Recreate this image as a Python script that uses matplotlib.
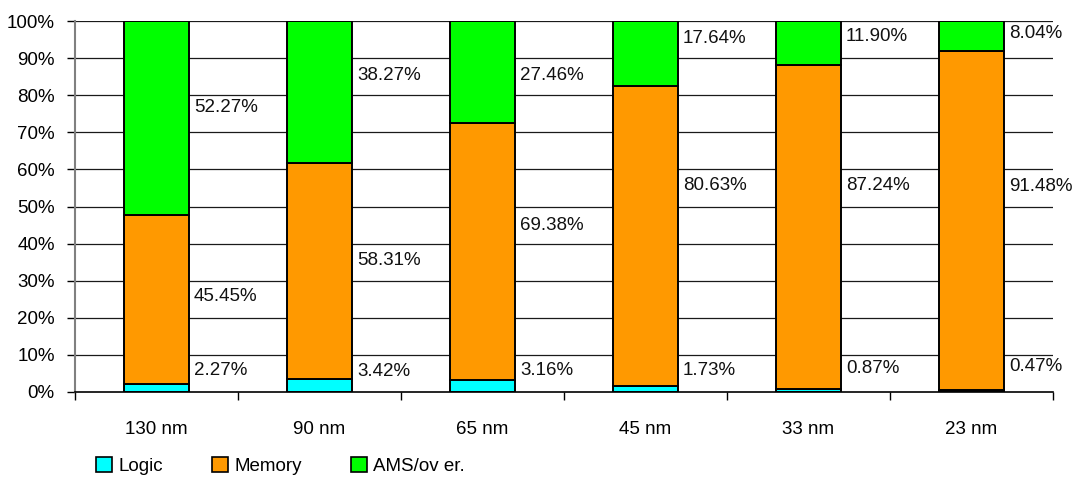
import matplotlib
matplotlib.use("Agg")
import matplotlib.pyplot as plt
from matplotlib.patches import Patch
import numpy as np

categories = ["130 nm", "90 nm", "65 nm", "45 nm", "33 nm", "23 nm"]
logic = [2.27, 3.42, 3.16, 1.73, 0.87, 0.47]
memory = [45.45, 58.31, 69.38, 80.63, 87.24, 91.48]
ams = [52.27, 38.27, 27.46, 17.64, 11.90, 8.04]
series_names = ["Logic", "Memory", "AMS/ov er."]
yticks = [0, 10, 20, 30, 40, 50, 60, 70, 80, 90, 100]
ytick_labels = ["0%", "10%", "20%", "30%", "40%", "50%", "60%", "70%", "80%", "90%", "100%"]

# vertical placement of the value labels (data units), as in the source chart
label_y_logic = [5.9, 5.5, 5.9, 5.9, 6.2, 6.8]
label_y_memory = [25.8, 35.4, 44.8, 55.6, 55.6, 55.3]
label_y_ams = [76.7, 85.3, 85.3, 95.2, 95.8, 96.5]

colors = ["#00FFFF", "#FF9900", "#00FF00"]
plt.rcParams["font.family"] = ["Liberation Sans", "DejaVu Sans"]

fig = plt.figure(figsize=(10.83, 4.83), dpi=100)
ax = fig.add_axes([75 / 1083, (483 - 392) / 483, 978 / 1083, 371 / 483])

x = np.arange(len(categories))
w = 0.40
logic_a = np.array(logic)
mem_a = np.array(memory)
ams_a = np.array(ams)

for v in yticks[1:]:
    ax.axhline(v, color="#1a1a1a", lw=0.9, zorder=1)

ax.bar(x, logic_a, w, color=colors[0], edgecolor="black", lw=1.4, zorder=3)
ax.bar(x, mem_a, w, bottom=logic_a, color=colors[1], edgecolor="black", lw=1.4, zorder=3)
ax.bar(x, ams_a, w, bottom=logic_a + mem_a, color=colors[2], edgecolor="black", lw=1.4, zorder=3)

fs = 13.5
for i in range(len(categories)):
    xr = x[i] + w / 2
    for val, yy in ((logic[i], label_y_logic[i]), (memory[i], label_y_memory[i]), (ams[i], label_y_ams[i])):
        ax.annotate(f"{val:.2f}%", (xr, yy), xytext=(3.5, 0), textcoords="offset points",
                    ha="left", va="center", fontsize=fs, color="#111111", zorder=4)

ax.set_xlim(-0.5, len(categories) - 0.5)
ax.set_ylim(0, 100)
ax.set_yticks(yticks)
ax.set_yticklabels(ytick_labels, fontsize=fs)
ax.tick_params(axis="y", direction="out", length=6, width=1, color="black", pad=8.5)

ax.set_xticks(np.arange(-0.5, len(categories), 1.0))
ax.set_xticklabels([])
ax.set_xticks(x, minor=True)
ax.set_xticklabels(categories, minor=True, fontsize=fs)
ax.tick_params(axis="x", which="major", direction="out", length=6, width=1, color="black")
ax.tick_params(axis="x", which="minor", length=0, pad=21)

for s in ("top", "right"):
    ax.spines[s].set_visible(False)
ax.spines["left"].set_color("#808080")
ax.spines["left"].set_linewidth(1.5)
ax.spines["bottom"].set_color("black")
ax.spines["bottom"].set_linewidth(1.2)
ax.spines["bottom"].set_zorder(5)

handles = [Patch(facecolor=c, edgecolor="black", lw=1.2) for c in colors]
fig.legend(handles, series_names, loc="center left",
           bbox_to_anchor=(96 / 1083, 1 - 466 / 483), ncol=3, frameon=False,
           fontsize=fs, handlelength=0.85, handleheight=0.85, handletextpad=0.35,
           columnspacing=2.6, borderpad=0, borderaxespad=0)

fig.savefig("out.png", dpi=100)
